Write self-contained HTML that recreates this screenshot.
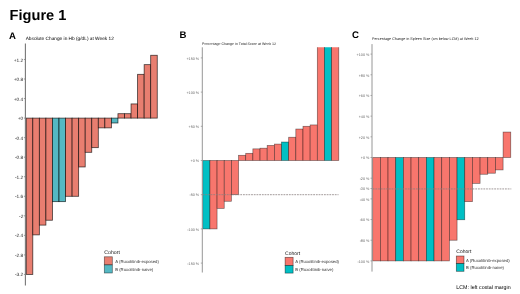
<!DOCTYPE html>
<html><head><meta charset="utf-8"><title>Figure 1</title>
<style>html,body{margin:0;padding:0;background:#fff;}svg{display:block;font-family:"Liberation Sans",sans-serif;filter:blur(0.4px);text-rendering:geometricPrecision;}</style>
</head><body>
<svg width="520" height="294" viewBox="0 0 520 294">
<rect x="0" y="0" width="520" height="294" fill="#fff"/>
<text x="9.60" y="19.70" font-size="14.6" text-anchor="start" font-weight="bold" fill="#000">Figure 1</text>
<text x="8.90" y="38.50" font-size="9.6" text-anchor="start" font-weight="bold" fill="#000">A</text>
<text x="25.70" y="40.30" font-size="4.78" text-anchor="start" font-weight="normal" fill="#000">Absolute Change in Hb (g/dL) at Week 12</text>
<rect x="26.25" y="118.10" width="6.55" height="156.35" fill="#E87E70" stroke="#000" stroke-width="0.8" stroke-opacity="0.72"/>
<rect x="32.80" y="118.10" width="6.55" height="116.78" fill="#E87E70" stroke="#000" stroke-width="0.8" stroke-opacity="0.72"/>
<rect x="39.35" y="118.10" width="6.55" height="107.00" fill="#E87E70" stroke="#000" stroke-width="0.8" stroke-opacity="0.72"/>
<rect x="45.90" y="118.10" width="6.55" height="102.12" fill="#E87E70" stroke="#000" stroke-width="0.8" stroke-opacity="0.72"/>
<rect x="52.45" y="118.10" width="6.55" height="83.55" fill="#55B8C3" stroke="#000" stroke-width="0.8" stroke-opacity="0.72"/>
<rect x="59.00" y="118.10" width="6.55" height="83.55" fill="#55B8C3" stroke="#000" stroke-width="0.8" stroke-opacity="0.72"/>
<rect x="65.55" y="118.10" width="6.55" height="78.18" fill="#E87E70" stroke="#000" stroke-width="0.8" stroke-opacity="0.72"/>
<rect x="72.10" y="118.10" width="6.55" height="78.18" fill="#E87E70" stroke="#000" stroke-width="0.8" stroke-opacity="0.72"/>
<rect x="78.65" y="118.10" width="6.55" height="48.86" fill="#E87E70" stroke="#000" stroke-width="0.8" stroke-opacity="0.72"/>
<rect x="85.20" y="118.10" width="6.55" height="34.20" fill="#E87E70" stroke="#000" stroke-width="0.8" stroke-opacity="0.72"/>
<rect x="91.75" y="118.10" width="6.55" height="29.56" fill="#E87E70" stroke="#000" stroke-width="0.8" stroke-opacity="0.72"/>
<rect x="98.30" y="118.10" width="6.55" height="9.77" fill="#E87E70" stroke="#000" stroke-width="0.8" stroke-opacity="0.72"/>
<rect x="104.85" y="118.10" width="6.55" height="9.77" fill="#E87E70" stroke="#000" stroke-width="0.8" stroke-opacity="0.72"/>
<rect x="111.40" y="118.10" width="6.55" height="4.89" fill="#55B8C3" stroke="#000" stroke-width="0.8" stroke-opacity="0.72"/>
<rect x="117.95" y="113.70" width="6.55" height="4.40" fill="#E87E70" stroke="#000" stroke-width="0.8" stroke-opacity="0.72"/>
<rect x="124.50" y="113.70" width="6.55" height="4.40" fill="#E87E70" stroke="#000" stroke-width="0.8" stroke-opacity="0.72"/>
<rect x="131.05" y="103.93" width="6.55" height="14.17" fill="#E87E70" stroke="#000" stroke-width="0.8" stroke-opacity="0.72"/>
<rect x="137.60" y="74.32" width="6.55" height="43.78" fill="#E87E70" stroke="#000" stroke-width="0.8" stroke-opacity="0.72"/>
<rect x="144.15" y="64.65" width="6.55" height="53.45" fill="#E87E70" stroke="#000" stroke-width="0.8" stroke-opacity="0.72"/>
<rect x="150.70" y="55.27" width="6.55" height="62.83" fill="#E87E70" stroke="#000" stroke-width="0.8" stroke-opacity="0.72"/>
<line x1="25.40" y1="43.60" x2="25.40" y2="285.50" stroke="#767676" stroke-width="1.1"/>
<line x1="23.90" y1="59.47" x2="25.40" y2="59.47" stroke="#767676" stroke-width="0.7"/>
<text x="23.30" y="61.50" font-size="4.8" text-anchor="end" font-weight="normal" fill="#262626">+1.2</text>
<line x1="23.90" y1="79.01" x2="25.40" y2="79.01" stroke="#767676" stroke-width="0.7"/>
<text x="23.30" y="81.04" font-size="4.8" text-anchor="end" font-weight="normal" fill="#262626">+0.8</text>
<line x1="23.90" y1="98.56" x2="25.40" y2="98.56" stroke="#767676" stroke-width="0.7"/>
<text x="23.30" y="100.58" font-size="4.8" text-anchor="end" font-weight="normal" fill="#262626">+0.4</text>
<line x1="23.90" y1="118.10" x2="25.40" y2="118.10" stroke="#767676" stroke-width="0.7"/>
<text x="23.30" y="120.13" font-size="4.8" text-anchor="end" font-weight="normal" fill="#262626">+0</text>
<line x1="23.90" y1="137.64" x2="25.40" y2="137.64" stroke="#767676" stroke-width="0.7"/>
<text x="23.30" y="139.67" font-size="4.8" text-anchor="end" font-weight="normal" fill="#262626">-0.4</text>
<line x1="23.90" y1="157.19" x2="25.40" y2="157.19" stroke="#767676" stroke-width="0.7"/>
<text x="23.30" y="159.22" font-size="4.8" text-anchor="end" font-weight="normal" fill="#262626">-0.8</text>
<line x1="23.90" y1="176.73" x2="25.40" y2="176.73" stroke="#767676" stroke-width="0.7"/>
<text x="23.30" y="178.76" font-size="4.8" text-anchor="end" font-weight="normal" fill="#262626">-1.2</text>
<line x1="23.90" y1="196.28" x2="25.40" y2="196.28" stroke="#767676" stroke-width="0.7"/>
<text x="23.30" y="198.30" font-size="4.8" text-anchor="end" font-weight="normal" fill="#262626">-1.6</text>
<line x1="23.90" y1="215.82" x2="25.40" y2="215.82" stroke="#767676" stroke-width="0.7"/>
<text x="23.30" y="217.85" font-size="4.8" text-anchor="end" font-weight="normal" fill="#262626">-2</text>
<line x1="23.90" y1="235.36" x2="25.40" y2="235.36" stroke="#767676" stroke-width="0.7"/>
<text x="23.30" y="237.39" font-size="4.8" text-anchor="end" font-weight="normal" fill="#262626">-2.4</text>
<line x1="23.90" y1="254.91" x2="25.40" y2="254.91" stroke="#767676" stroke-width="0.7"/>
<text x="23.30" y="256.94" font-size="4.8" text-anchor="end" font-weight="normal" fill="#262626">-2.8</text>
<line x1="23.90" y1="274.45" x2="25.40" y2="274.45" stroke="#767676" stroke-width="0.7"/>
<text x="23.30" y="276.48" font-size="4.8" text-anchor="end" font-weight="normal" fill="#262626">-3.2</text>
<text x="179.60" y="38.20" font-size="9.6" text-anchor="start" font-weight="bold" fill="#000">B</text>
<text x="202.00" y="45.40" font-size="3.62" text-anchor="start" font-weight="normal" fill="#222">Percentage Change in Total Score at Week 12</text>
<clipPath id="cpB"><rect x="202.3" y="47.3" width="200" height="225.2"/></clipPath><g clip-path="url(#cpB)">
<rect x="202.75" y="160.50" width="7.16" height="68.40" fill="#00BFC4" stroke="#000" stroke-width="0.7" stroke-opacity="0.5"/>
<rect x="209.91" y="160.50" width="7.16" height="68.40" fill="#F8766D" stroke="#000" stroke-width="0.7" stroke-opacity="0.5"/>
<rect x="217.07" y="160.50" width="7.16" height="47.88" fill="#F8766D" stroke="#000" stroke-width="0.7" stroke-opacity="0.5"/>
<rect x="224.23" y="160.50" width="7.16" height="40.77" fill="#F8766D" stroke="#000" stroke-width="0.7" stroke-opacity="0.5"/>
<rect x="231.39" y="160.50" width="7.16" height="34.20" fill="#F8766D" stroke="#000" stroke-width="0.7" stroke-opacity="0.5"/>
<rect x="238.55" y="155.30" width="7.16" height="5.20" fill="#F8766D" stroke="#000" stroke-width="0.7" stroke-opacity="0.5"/>
<rect x="245.71" y="153.32" width="7.16" height="7.18" fill="#F8766D" stroke="#000" stroke-width="0.7" stroke-opacity="0.5"/>
<rect x="252.87" y="148.87" width="7.16" height="11.63" fill="#F8766D" stroke="#000" stroke-width="0.7" stroke-opacity="0.5"/>
<rect x="260.03" y="148.19" width="7.16" height="12.31" fill="#F8766D" stroke="#000" stroke-width="0.7" stroke-opacity="0.5"/>
<rect x="267.19" y="145.45" width="7.16" height="15.05" fill="#F8766D" stroke="#000" stroke-width="0.7" stroke-opacity="0.5"/>
<rect x="274.35" y="144.08" width="7.16" height="16.42" fill="#F8766D" stroke="#000" stroke-width="0.7" stroke-opacity="0.5"/>
<rect x="281.51" y="142.03" width="7.16" height="18.47" fill="#00BFC4" stroke="#000" stroke-width="0.7" stroke-opacity="0.5"/>
<rect x="288.67" y="137.24" width="7.16" height="23.26" fill="#F8766D" stroke="#000" stroke-width="0.7" stroke-opacity="0.5"/>
<rect x="295.83" y="129.04" width="7.16" height="31.46" fill="#F8766D" stroke="#000" stroke-width="0.7" stroke-opacity="0.5"/>
<rect x="302.99" y="126.30" width="7.16" height="34.20" fill="#F8766D" stroke="#000" stroke-width="0.7" stroke-opacity="0.5"/>
<rect x="310.15" y="124.93" width="7.16" height="35.57" fill="#F8766D" stroke="#000" stroke-width="0.7" stroke-opacity="0.5"/>
<rect x="317.31" y="44.22" width="7.16" height="116.28" fill="#F8766D" stroke="#000" stroke-width="0.7" stroke-opacity="0.5"/>
<rect x="324.47" y="44.22" width="7.16" height="116.28" fill="#00BFC4" stroke="#000" stroke-width="0.7" stroke-opacity="0.5"/>
<rect x="331.63" y="44.22" width="7.16" height="116.28" fill="#F8766D" stroke="#000" stroke-width="0.7" stroke-opacity="0.5"/>
</g>
<line x1="202.50" y1="194.70" x2="338.50" y2="194.70" stroke="#8a8080" stroke-width="0.8" stroke-dasharray="1.8 0.9"/>
<line x1="202.30" y1="47.30" x2="202.30" y2="272.50" stroke="#8a8a8a" stroke-width="0.9"/>
<line x1="200.80" y1="57.90" x2="202.30" y2="57.90" stroke="#8a8a8a" stroke-width="0.7"/>
<text x="199.20" y="59.65" font-size="3.74" text-anchor="end" font-weight="normal" fill="#6a6a6a">+150 %</text>
<line x1="200.80" y1="92.10" x2="202.30" y2="92.10" stroke="#8a8a8a" stroke-width="0.7"/>
<text x="199.20" y="93.85" font-size="3.74" text-anchor="end" font-weight="normal" fill="#6a6a6a">+100 %</text>
<line x1="200.80" y1="126.30" x2="202.30" y2="126.30" stroke="#8a8a8a" stroke-width="0.7"/>
<text x="199.20" y="128.05" font-size="3.74" text-anchor="end" font-weight="normal" fill="#6a6a6a">+50 %</text>
<line x1="200.80" y1="160.50" x2="202.30" y2="160.50" stroke="#8a8a8a" stroke-width="0.7"/>
<text x="199.20" y="162.25" font-size="3.74" text-anchor="end" font-weight="normal" fill="#6a6a6a">+0 %</text>
<line x1="200.80" y1="194.70" x2="202.30" y2="194.70" stroke="#8a8a8a" stroke-width="0.7"/>
<text x="199.20" y="196.45" font-size="3.74" text-anchor="end" font-weight="normal" fill="#6a6a6a">-50 %</text>
<line x1="200.80" y1="228.90" x2="202.30" y2="228.90" stroke="#8a8a8a" stroke-width="0.7"/>
<text x="199.20" y="230.65" font-size="3.74" text-anchor="end" font-weight="normal" fill="#6a6a6a">-100 %</text>
<line x1="200.80" y1="263.10" x2="202.30" y2="263.10" stroke="#8a8a8a" stroke-width="0.7"/>
<text x="199.20" y="264.85" font-size="3.74" text-anchor="end" font-weight="normal" fill="#6a6a6a">-150 %</text>
<text x="351.90" y="38.30" font-size="9.6" text-anchor="start" font-weight="bold" fill="#000">C</text>
<text x="372.00" y="40.10" font-size="3.75" text-anchor="start" font-weight="normal" fill="#222">Percentage Change in Spleen Size (cm below LCM) at Week 12</text>
<rect x="372.70" y="157.50" width="7.67" height="103.40" fill="#F8766D" stroke="#000" stroke-width="0.7" stroke-opacity="0.5"/>
<rect x="380.37" y="157.50" width="7.67" height="103.40" fill="#F8766D" stroke="#000" stroke-width="0.7" stroke-opacity="0.5"/>
<rect x="388.04" y="157.50" width="7.67" height="103.40" fill="#F8766D" stroke="#000" stroke-width="0.7" stroke-opacity="0.5"/>
<rect x="395.71" y="157.50" width="7.67" height="103.40" fill="#00BFC4" stroke="#000" stroke-width="0.7" stroke-opacity="0.5"/>
<rect x="403.38" y="157.50" width="7.67" height="103.40" fill="#F8766D" stroke="#000" stroke-width="0.7" stroke-opacity="0.5"/>
<rect x="411.05" y="157.50" width="7.67" height="103.40" fill="#F8766D" stroke="#000" stroke-width="0.7" stroke-opacity="0.5"/>
<rect x="418.72" y="157.50" width="7.67" height="103.40" fill="#F8766D" stroke="#000" stroke-width="0.7" stroke-opacity="0.5"/>
<rect x="426.39" y="157.50" width="7.67" height="103.40" fill="#00BFC4" stroke="#000" stroke-width="0.7" stroke-opacity="0.5"/>
<rect x="434.06" y="157.50" width="7.67" height="103.40" fill="#F8766D" stroke="#000" stroke-width="0.7" stroke-opacity="0.5"/>
<rect x="441.73" y="157.50" width="7.67" height="103.40" fill="#F8766D" stroke="#000" stroke-width="0.7" stroke-opacity="0.5"/>
<rect x="449.40" y="157.50" width="7.67" height="82.72" fill="#F8766D" stroke="#000" stroke-width="0.7" stroke-opacity="0.5"/>
<rect x="457.07" y="157.50" width="7.67" height="62.25" fill="#00BFC4" stroke="#000" stroke-width="0.7" stroke-opacity="0.5"/>
<rect x="464.74" y="157.50" width="7.67" height="44.15" fill="#F8766D" stroke="#000" stroke-width="0.7" stroke-opacity="0.5"/>
<rect x="472.41" y="157.50" width="7.67" height="25.85" fill="#F8766D" stroke="#000" stroke-width="0.7" stroke-opacity="0.5"/>
<rect x="480.08" y="157.50" width="7.67" height="16.75" fill="#F8766D" stroke="#000" stroke-width="0.7" stroke-opacity="0.5"/>
<rect x="487.75" y="157.50" width="7.67" height="15.72" fill="#F8766D" stroke="#000" stroke-width="0.7" stroke-opacity="0.5"/>
<rect x="495.42" y="157.50" width="7.67" height="12.41" fill="#F8766D" stroke="#000" stroke-width="0.7" stroke-opacity="0.5"/>
<rect x="503.09" y="132.06" width="7.67" height="25.44" fill="#F8766D" stroke="#000" stroke-width="0.7" stroke-opacity="0.5"/>
<line x1="372.70" y1="188.93" x2="511.30" y2="188.93" stroke="#8a8080" stroke-width="0.8" stroke-dasharray="1.8 0.9"/>
<line x1="372.00" y1="44.10" x2="372.00" y2="271.60" stroke="#8a8a8a" stroke-width="0.9"/>
<line x1="370.50" y1="54.10" x2="372.00" y2="54.10" stroke="#8a8a8a" stroke-width="0.7"/>
<text x="369.40" y="55.95" font-size="3.74" text-anchor="end" font-weight="normal" fill="#6a6a6a">+100 %</text>
<line x1="370.50" y1="74.78" x2="372.00" y2="74.78" stroke="#8a8a8a" stroke-width="0.7"/>
<text x="369.40" y="76.63" font-size="3.74" text-anchor="end" font-weight="normal" fill="#6a6a6a">+80 %</text>
<line x1="370.50" y1="95.46" x2="372.00" y2="95.46" stroke="#8a8a8a" stroke-width="0.7"/>
<text x="369.40" y="97.31" font-size="3.74" text-anchor="end" font-weight="normal" fill="#6a6a6a">+60 %</text>
<line x1="370.50" y1="116.14" x2="372.00" y2="116.14" stroke="#8a8a8a" stroke-width="0.7"/>
<text x="369.40" y="117.99" font-size="3.74" text-anchor="end" font-weight="normal" fill="#6a6a6a">+40 %</text>
<line x1="370.50" y1="136.82" x2="372.00" y2="136.82" stroke="#8a8a8a" stroke-width="0.7"/>
<text x="369.40" y="138.67" font-size="3.74" text-anchor="end" font-weight="normal" fill="#6a6a6a">+20 %</text>
<line x1="370.50" y1="157.50" x2="372.00" y2="157.50" stroke="#8a8a8a" stroke-width="0.7"/>
<text x="369.40" y="159.35" font-size="3.74" text-anchor="end" font-weight="normal" fill="#6a6a6a">+0 %</text>
<line x1="370.50" y1="178.18" x2="372.00" y2="178.18" stroke="#8a8a8a" stroke-width="0.7"/>
<text x="369.40" y="180.03" font-size="3.74" text-anchor="end" font-weight="normal" fill="#6a6a6a">-20 %</text>
<line x1="370.50" y1="188.52" x2="372.00" y2="188.52" stroke="#8a8a8a" stroke-width="0.7"/>
<text x="369.40" y="190.37" font-size="3.74" text-anchor="end" font-weight="normal" fill="#6a6a6a">-30 %</text>
<line x1="370.50" y1="198.86" x2="372.00" y2="198.86" stroke="#8a8a8a" stroke-width="0.7"/>
<text x="369.40" y="200.71" font-size="3.74" text-anchor="end" font-weight="normal" fill="#6a6a6a">-40 %</text>
<line x1="370.50" y1="219.54" x2="372.00" y2="219.54" stroke="#8a8a8a" stroke-width="0.7"/>
<text x="369.40" y="221.39" font-size="3.74" text-anchor="end" font-weight="normal" fill="#6a6a6a">-60 %</text>
<line x1="370.50" y1="240.22" x2="372.00" y2="240.22" stroke="#8a8a8a" stroke-width="0.7"/>
<text x="369.40" y="242.07" font-size="3.74" text-anchor="end" font-weight="normal" fill="#6a6a6a">-80 %</text>
<line x1="370.50" y1="260.90" x2="372.00" y2="260.90" stroke="#8a8a8a" stroke-width="0.7"/>
<text x="369.40" y="262.75" font-size="3.74" text-anchor="end" font-weight="normal" fill="#6a6a6a">-100 %</text>
<text x="104.30" y="253.95" font-size="5.2" text-anchor="start" font-weight="normal" fill="#1a1a1a">Cohort</text>
<rect x="104.30" y="256.80" width="8.00" height="8.10" fill="#E87E70" stroke="#000" stroke-width="0.7" stroke-opacity="0.55"/>
<rect x="104.30" y="264.90" width="8.00" height="8.10" fill="#55B8C3" stroke="#000" stroke-width="0.7" stroke-opacity="0.55"/>
<text x="115.20" y="262.73" font-size="4.25" text-anchor="start" font-weight="normal" fill="#333">A (Ruxolitinib-exposed)</text>
<text x="115.20" y="270.73" font-size="4.25" text-anchor="start" font-weight="normal" fill="#333">B (Ruxolitinib-naive)</text>
<text x="285.10" y="254.75" font-size="5.0" text-anchor="start" font-weight="normal" fill="#1a1a1a">Cohort</text>
<rect x="285.10" y="257.30" width="8.00" height="8.20" fill="#F8766D" stroke="#000" stroke-width="0.7" stroke-opacity="0.55"/>
<rect x="285.10" y="265.50" width="8.00" height="7.60" fill="#00BFC4" stroke="#000" stroke-width="0.7" stroke-opacity="0.55"/>
<text x="295.30" y="263.23" font-size="4.25" text-anchor="start" font-weight="normal" fill="#333">A (Ruxolitinib-exposed)</text>
<text x="295.30" y="270.83" font-size="4.25" text-anchor="start" font-weight="normal" fill="#333">B (Ruxolitinib-naive)</text>
<text x="456.30" y="252.75" font-size="5.0" text-anchor="start" font-weight="normal" fill="#1a1a1a">Cohort</text>
<rect x="456.30" y="256.00" width="7.70" height="7.60" fill="#F8766D" stroke="#000" stroke-width="0.7" stroke-opacity="0.55"/>
<rect x="456.30" y="263.60" width="7.70" height="7.70" fill="#00BFC4" stroke="#000" stroke-width="0.7" stroke-opacity="0.55"/>
<text x="466.00" y="261.73" font-size="4.25" text-anchor="start" font-weight="normal" fill="#333">A (Ruxolitinib-exposed)</text>
<text x="466.00" y="269.23" font-size="4.25" text-anchor="start" font-weight="normal" fill="#333">B (Ruxolitinib-naive)</text>
<text x="456.30" y="289.32" font-size="5.32" text-anchor="start" font-weight="normal" fill="#000">LCM: left costal margin</text>
</svg>
</body></html>
